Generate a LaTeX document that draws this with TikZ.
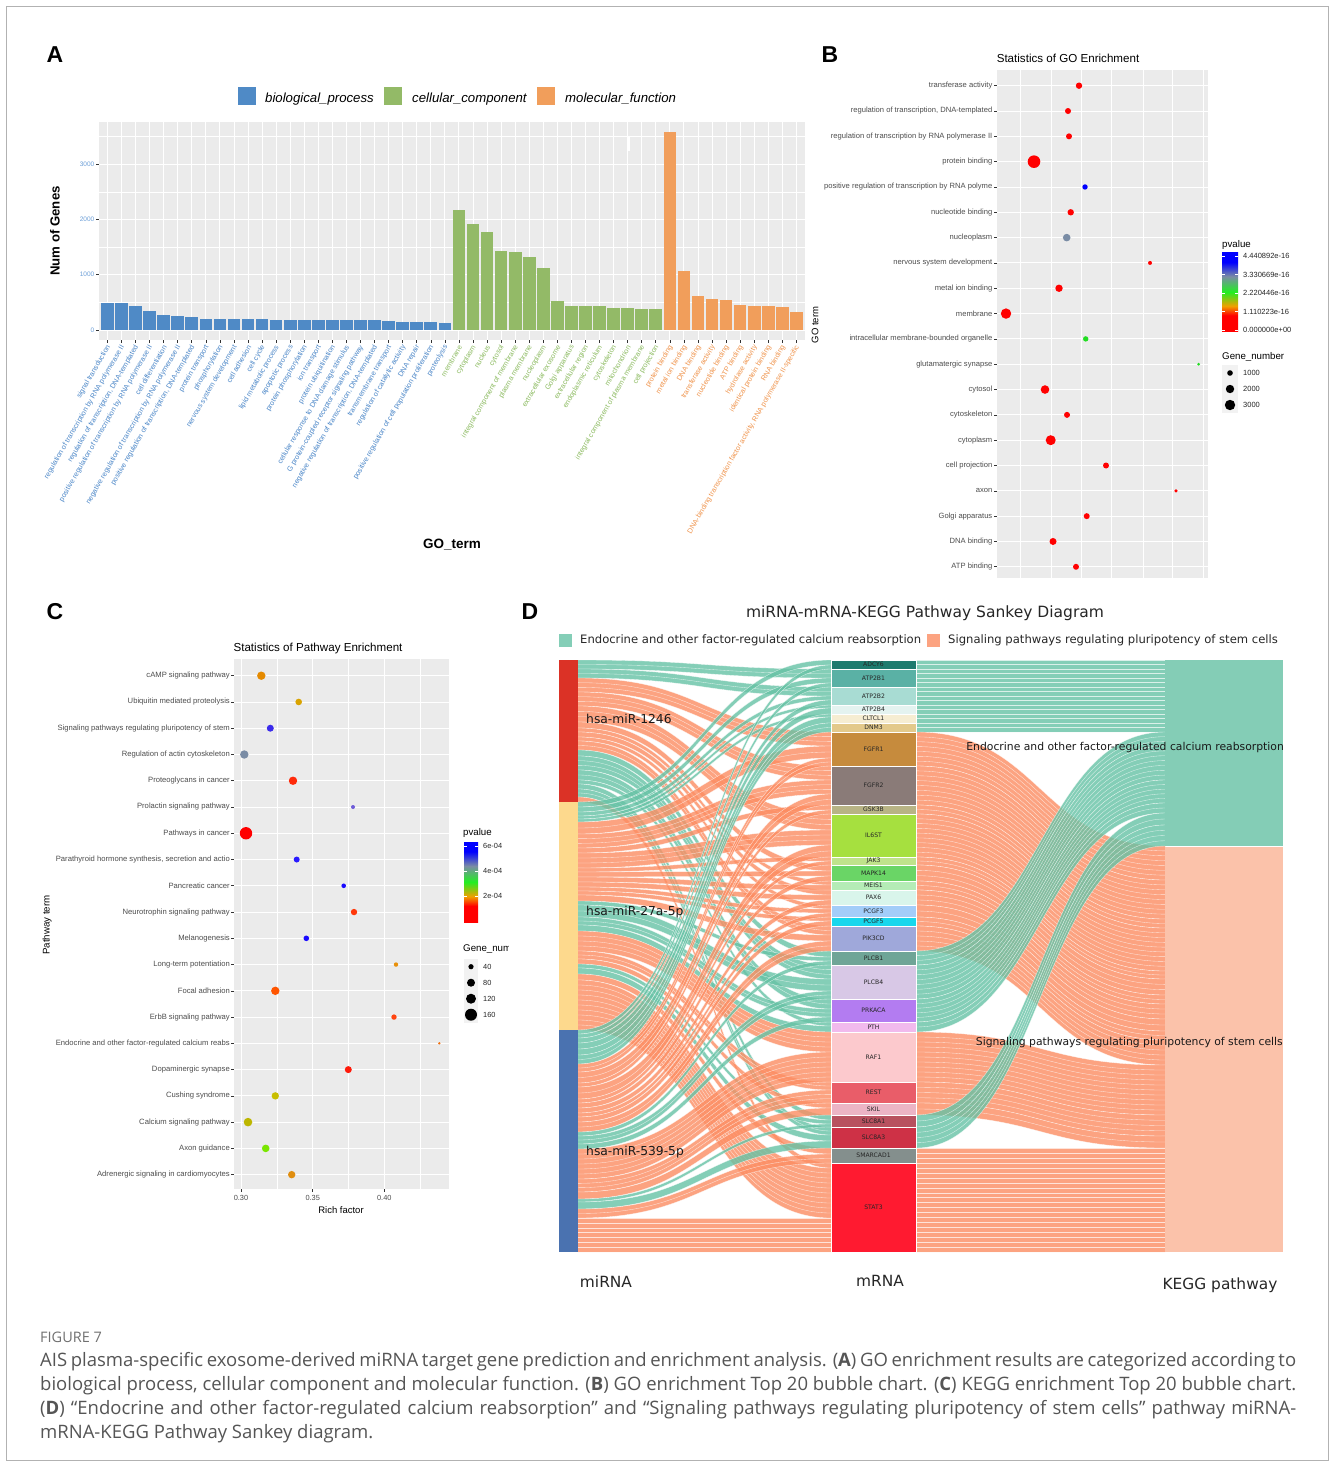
\documentclass[tikz,border=0pt]{standalone}
\usepackage{fontspec}
\setmainfont{Liberation Sans}
\newfontfamily\djv{DejaVu Sans}
\newfontfamily\capfont{Open Sans}
\newcommand\fsz[1]{\fontsize{#1}{#1}\selectfont}
% panel A colours
\definecolor{ggbg}{HTML}{EBEBEB}
\definecolor{barB}{HTML}{4F8AC6}
\definecolor{barG}{HTML}{93BA67}
\definecolor{barO}{HTML}{F19E5B}
\definecolor{labB}{HTML}{4A86C8}
\definecolor{labG}{HTML}{8CBB60}
\definecolor{labO}{HTML}{F0944C}
\definecolor{ytk}{HTML}{6C9FD8}
\definecolor{gtxt}{HTML}{4D4D4D}
\definecolor{tickc}{HTML}{333333}
\definecolor{keybg}{HTML}{F2F2F2}
% bubble colours
\definecolor{bR}{HTML}{FF0000}
\definecolor{bBl}{HTML}{0000FF}
\definecolor{bSl}{HTML}{7A8CA5}
\definecolor{bGr}{HTML}{22DD22}
\definecolor{cA}{HTML}{E58A00}
\definecolor{cB}{HTML}{D9A300}
\definecolor{cC}{HTML}{3B2BEB}
\definecolor{cE}{HTML}{FF2A0A}
\definecolor{cF}{HTML}{6E5CD8}
\definecolor{cH}{HTML}{2A1BFF}
\definecolor{cI}{HTML}{1A0AFF}
\definecolor{cJ}{HTML}{FF380A}
\definecolor{cK}{HTML}{E8900A}
\definecolor{cL}{HTML}{FF5500}
\definecolor{cM}{HTML}{FF4510}
\definecolor{cN}{HTML}{F07010}
\definecolor{cO}{HTML}{FF1A0A}
\definecolor{cP}{HTML}{C8BE00}
\definecolor{cQ}{HTML}{BDB600}
\definecolor{cR}{HTML}{7AE600}
\definecolor{cS}{HTML}{E08E10}
\definecolor{pvR}{HTML}{FF0000}
\definecolor{pvO}{HTML}{F0A000}
\definecolor{pvG}{HTML}{22EE22}
\definecolor{pvS}{HTML}{7A8CA5}
\definecolor{pvB}{HTML}{0000FF}
\pgfdeclareverticalshading{pvsh}{100bp}{color(0bp)=(pvR); color(35bp)=(pvR); color(41bp)=(pvO); color(50bp)=(pvG); color(60bp)=(pvS); color(69bp)=(pvB); color(100bp)=(pvB)}
% sankey colours
\definecolor{lkT}{HTML}{66C2A5}
\definecolor{lkS}{HTML}{FC8D62}
\definecolor{kT}{HTML}{84CDB6}
\definecolor{kS}{HTML}{FBC2AA}
\definecolor{mR}{HTML}{DB3226}
\definecolor{mY}{HTML}{FDD98D}
\definecolor{mB}{HTML}{4A72B0}
\definecolor{gADCY6}{HTML}{1E7B6E}
\definecolor{gATP2B1}{HTML}{5AB1A5}
\definecolor{gATP2B2}{HTML}{A8DCD3}
\definecolor{gATP2B4}{HTML}{E4F3F0}
\definecolor{gCLTCL1}{HTML}{F6EDD2}
\definecolor{gDNM3}{HTML}{E3C98B}
\definecolor{gFGFR1}{HTML}{C68B3D}
\definecolor{gFGFR2}{HTML}{8A7B78}
\definecolor{gGSK3B}{HTML}{B8B485}
\definecolor{gIL6ST}{HTML}{A6E03F}
\definecolor{gJAK3}{HTML}{BFE38B}
\definecolor{gMAPK14}{HTML}{6AD566}
\definecolor{gMEIS1}{HTML}{B5ECB6}
\definecolor{gPAX6}{HTML}{D9F5EB}
\definecolor{gPCGF3}{HTML}{A3CDF9}
\definecolor{gPCGF5}{HTML}{17D7EC}
\definecolor{gPIK3CD}{HTML}{9FA8DA}
\definecolor{gPLCB1}{HTML}{6FA597}
\definecolor{gPLCB4}{HTML}{D8C8E6}
\definecolor{gPRKACA}{HTML}{B37CF1}
\definecolor{gPTH}{HTML}{F1BAED}
\definecolor{gRAF1}{HTML}{FCC9CD}
\definecolor{gREST}{HTML}{E95D69}
\definecolor{gSKIL}{HTML}{ECB4C5}
\definecolor{gSLC8A1}{HTML}{B8515F}
\definecolor{gSLC8A3}{HTML}{CE3146}
\definecolor{gSMARCAD1}{HTML}{848F8D}
\definecolor{gSTAT3}{HTML}{FF1A30}
\definecolor{capc}{HTML}{555555}
\definecolor{figc}{HTML}{707070}
% a sankey band: colour, x0, x1, y at source, y at target, width
\newcommand\sband[6]{%
  \pgfmathsetmacro\xm{(#2+#3)/2}%
  \fill[fill=#1, fill opacity=0.8] (#2,#4) .. controls (\xm,#4) and (\xm,#5) .. (#3,#5) -- (#3,{#5+#6}) .. controls (\xm,{#5+#6}) and (\xm,{#4+#6}) .. (#2,{#4+#6}) -- cycle;%
  \pgfmathtruncatemacro\nsub{max(1,round(#6/5))}%
  \foreach \j in {0,...,\nsub}{%
    \pgfmathsetmacro\off{\j*#6/\nsub}%
    \draw[white, line width=0.35, opacity=0.7] (#2,{#4+\off}) .. controls (\xm,{#4+\off}) and (\xm,{#5+\off}) .. (#3,{#5+\off});%
  }%
}
\begin{document}
\begin{tikzpicture}[x=1pt,y=-1pt,
  xlab/.style={rotate=60, anchor=east, font=\fsz{7.2}, inner sep=0.3pt},
  ylabB/.style={anchor=east, font=\fsz{7.6}, text=gtxt, inner sep=0.5pt},
  ylabC/.style={anchor=east, font=\fsz{7.65}, text=gtxt, inner sep=0.5pt},
  legt/.style={anchor=west, font=\fsz{9.7}, inner sep=0},
  legs/.style={anchor=west, font=\fsz{7.5}, text=black!85, inner sep=0},
  panel/.style={font=\bfseries\fsz{23}, inner sep=0},
  gene/.style={draw=white, line width=0.4, minimum width=85, inner sep=0, font=\djv\fsz{6.1}, text=black!85},
  captxt/.style={anchor=base west, inner sep=0, font=\capfont\fsz{18.5}, text=capc}]
\useasboundingbox (0,0) rectangle (1330,1463);
\fill[white] (0,0) rectangle (1330,1463);
\draw[black!30, line width=0.8] (6,6) rectangle (1328,1460);

% ================= Panel A =================
\node[panel] (lA) at (55,55) {A};
\fill[barB] (238,87) rectangle (256,105);
\node[anchor=west, font=\itshape\fsz{13.2}, inner sep=0] (legA1) at (265,99) {biological\_process};
\fill[barG] (384,87) rectangle (402,105);
\node[anchor=west, font=\itshape\fsz{13.2}, inner sep=0] (legA2) at (412,99) {cellular\_component};
\fill[barO] (537,87) rectangle (555,105);
\node[anchor=west, font=\itshape\fsz{13.2}, inner sep=0] (legA3) at (565,99) {molecular\_function};

\fill[ggbg] (99,122) rectangle (805,340);
\foreach \v in {500,1500,2500,3500} \draw[white, line width=0.45] (99,{330-\v*0.0553}) -- (805,{330-\v*0.0553});
\foreach \v in {0,1000,2000,3000} \draw[white, line width=0.9] (99,{330-\v*0.0553}) -- (805,{330-\v*0.0553});
\foreach \i in {1,...,50} \draw[white, line width=0.9] ({99+(\i-0.4)*14.06},122) -- ({99+(\i-0.4)*14.06},340);
\foreach \v [count=\i] in {485,480,430,345,265,255,230,205,200,195,190,190,188,185,185,183,180,178,175,172,170,140,138,136,135}
  \fill[barB] ({99+(\i-0.4)*14.06-6.33},330) rectangle ({99+(\i-0.4)*14.06+6.33},{330-\v*0.0553});
\foreach \v [count=\i from 26] in {2163,1910,1771,1428,1404,1319,1114,518,434,434,428,398,392,380,373}
  \fill[barG] ({99+(\i-0.4)*14.06-6.33},330) rectangle ({99+(\i-0.4)*14.06+6.33},{330-\v*0.0553});
\foreach \v [count=\i from 41] in {3578,1072,608,554,536,446,434,428,422,331}
  \fill[barO] ({99+(\i-0.4)*14.06-6.33},330) rectangle ({99+(\i-0.4)*14.06+6.33},{330-\v*0.0553});
\fill[white] (626.5,137) rectangle (629.5,151);
\foreach \i in {1,...,50} \draw[tickc, line width=0.6] ({99+(\i-0.4)*14.06},340) -- ({99+(\i-0.4)*14.06},343);
\foreach \v in {0,1000,2000,3000} {
  \draw[tickc, line width=0.6] (96,{330-\v*0.0553}) -- (99,{330-\v*0.0553});
  \node[anchor=east, font=\fsz{6.5}, text=ytk, inner sep=0.5] at (95,{330-\v*0.0553}) {\v};
}
\node[rotate=90, font=\bfseries\fsz{13.2}, inner sep=0] (ytA) at (55,231) {Num of Genes};
\node[font=\bfseries\fsz{13.5}, inner sep=0] (xtA) at (452,545) {GO\_term};
\foreach \tx [count=\i] in {signal transduction, regulation of transcription by RNA polymerase II, regulation of transcription{,} DNA-templated, positive regulation of transcription by RNA polymerase II, cell differentiation, negative regulation of transcription by RNA polymerase II, positive regulation of transcription{,} DNA-templated, protein transport, phosphorylation, nervous system development, cell adhesion, cell cycle, lipid metabolic process, apoptotic process, protein phosphorylation, ion transport, protein ubiquitination, cellular response to DNA damage stimulus, G protein-coupled receptor signaling pathway, negative regulation of transcription{,} DNA-templated, transmembrane transport, regulation of catalytic activity, DNA repair, positive regulation of cell population proliferation, proteolysis}
  \node[xlab, text=labB] (xa\i) at ({99+(\i-0.4)*14.06+1.5},345.5) {\tx};
\foreach \tx [count=\i from 26] in {membrane, cytoplasm, nucleus, cytosol, integral component of membrane, plasma membrane, nucleoplasm, extracellular exosome, Golgi apparatus, extracellular region, endoplasmic reticulum, cytoskeleton, mitochondrion, integral component of plasma membrane, cell projection}
  \node[xlab, text=labG] (xa\i) at ({99+(\i-0.4)*14.06+1.5},345.5) {\tx};
\foreach \tx [count=\i from 41] in {protein binding, metal ion binding, DNA binding, transferase activity, nucleotide binding, ATP binding, hydrolase activity, identical protein binding, RNA binding, DNA-binding transcription factor activity{,} RNA polymerase II-specific}
  \node[xlab, text=labO] (xa\i) at ({99+(\i-0.4)*14.06+1.5},345.5) {\tx};

% ================= Panel B =================
\node[panel] (lB) at (830,55) {B};
\node[font=\fsz{11.6}, inner sep=0] (tB) at (1068,58) {Statistics of GO Enrichment};
\node[rotate=90, font=\fsz{9.5}, inner sep=0] (ytB) at (815,325) {GO term};
\fill[ggbg] (997,70) rectangle (1208,578);
\foreach \xx in {1020.7,1081.7,1143.3,1203.3} \draw[white, line width=0.45] (\xx,70) -- (\xx,578);
\foreach \xx in {1051.7,1111.7,1172.7} \draw[white, line width=0.9] (\xx,70) -- (\xx,578);
\foreach \k in {0,...,19} \draw[white, line width=0.9] (997,{85.7+\k*25.32}) -- (1208,{85.7+\k*25.32});
\foreach \lab/\xx/\rr/\cc [count=\k] in {transferase activity/1079/3.2/bR, regulation of transcription{,} DNA-templated/1068/3/bR, regulation of transcription by RNA polymerase II/1069/3/bR, protein binding/1034/6.3/bR, positive regulation of transcription by RNA polyme/1085/2.7/bBl, nucleotide binding/1070.7/3.2/bR, nucleoplasm/1066.7/3.8/bSl, nervous system development/1150/2/bR, metal ion binding/1059/3.7/bR, membrane/1006/5.2/bR, intracellular membrane-bounded organelle/1085.7/2.7/bGr, glutamatergic synapse/1198.7/1.5/bGr, cytosol/1045/4.3/bR, cytoskeleton/1067/3/bR, cytoplasm/1050.7/5/bR, cell projection/1106/3/bR, axon/1176/1.8/bR, Golgi apparatus/1086.7/3/bR, DNA binding/1053/3.5/bR, ATP binding/1076/3/bR} {
  \pgfmathsetmacro\yy{85.7+(\k-1)*25.32}
  \draw[tickc, line width=0.6] (994,\yy) -- (997,\yy);
  \node[ylabB] (yb\k) at (993,\yy) {\lab};
  \fill[fill=\cc] (\xx,\yy) circle[radius=\rr];
}
\node[legt] (pvB) at (1222,245) {pvalue};
\shade[shading=pvsh] (1222,253) rectangle (1238,331);
\foreach \lab/\yy in {4.440892e-16/256, 3.330669e-16/274.5, 2.220446e-16/293, 1.110223e-16/311.5, 0.000000e+00/330} {
  \draw[white, line width=0.5] (1222,\yy) -- (1225,\yy) (1235,\yy) -- (1238,\yy);
  \node[legs] at (1243,\yy) {\lab};
}
\node[legt] (gnB) at (1222,357) {Gene\_number};
\foreach \lab/\yy/\rr in {1000/373/2.8, 2000/389/4.2, 3000/405/5.2} {
  \fill[keybg] (1222,{\yy-8}) rectangle (1238,{\yy+8});
  \fill[black] (1230,\yy) circle[radius=\rr];
  \node[legs] at (1243,\yy) {\lab};
}

% ================= Panel C =================
\node[panel] (lC) at (55,612) {C};
\node[font=\fsz{11.6}, inner sep=0] (tC) at (318,648) {Statistics of Pathway Enrichment};
\node[rotate=90, font=\fsz{9.7}, inner sep=0] (ytC) at (47,925) {Pathway term};
\fill[ggbg] (234.3,659.3) rectangle (449.3,1189.3);
\foreach \xx in {276.8,348.5,420.2} \draw[white, line width=0.45] (\xx,659.3) -- (\xx,1189.3);
\foreach \xx in {241,312.7,384.3} \draw[white, line width=0.9] (\xx,659.3) -- (\xx,1189.3);
\foreach \k in {0,...,19} \draw[white, line width=0.9] (234.3,{675.7+\k*26.26}) -- (449.3,{675.7+\k*26.26});
\foreach \lab/\xx/\rr/\cc [count=\k] in {cAMP signaling pathway/261.3/4.2/cA, Ubiquitin mediated proteolysis/298.7/3.3/cB, Signaling pathways regulating pluripotency of stem/270.3/3.5/cC, Regulation of actin cytoskeleton/244.3/4.2/bSl, Proteoglycans in cancer/293/4.2/cE, Prolactin signaling pathway/353/2/cF, Pathways in cancer/246/6.2/bR, Parathyroid hormone synthesis{,} secretion and actio/296.7/3/cH, Pancreatic cancer/343.7/2.3/cI, Neurotrophin signaling pathway/354/3.2/cJ, Melanogenesis/306.3/2.8/cI, Long-term potentiation/396/2.2/cK, Focal adhesion/275.3/4.2/cL, ErbB signaling pathway/394/2.7/cM, Endocrine and other factor-regulated calcium reabs/439.3/1.3/cN, Dopaminergic synapse/348.3/3.5/cO, Cushing syndrome/275.3/3.7/cP, Calcium signaling pathway/248/4.3/cQ, Axon guidance/265.7/3.8/cR, Adrenergic signaling in cardiomyocytes/291.7/3.7/cS} {
  \pgfmathsetmacro\yy{675.7+(\k-1)*26.26}
  \draw[tickc, line width=0.6] (231.3,\yy) -- (234.3,\yy);
  \node[ylabC] (yc\k) at (230.5,\yy) {\lab};
  \fill[fill=\cc] (\xx,\yy) circle[radius=\rr];
}
\foreach \xx/\lab in {241/0.30, 312.7/0.35, 384.3/0.40} {
  \draw[tickc, line width=0.6] (\xx,1189.3) -- (\xx,1192.3);
  \node[font=\fsz{7.4}, text=gtxt, inner sep=0] at (\xx,1198) {\lab};
}
\node[font=\fsz{9.5}, inner sep=0] (xtC) at (341,1210) {Rich factor};
\node[legt] (pvC) at (463,833) {pvalue};
\shade[shading=pvsh] (464,842) rectangle (478,922);
\foreach \lab/\yy in {6e-04/846, 4e-04/871, 2e-04/896} {
  \draw[white, line width=0.5] (464,\yy) -- (467,\yy) (475,\yy) -- (478,\yy);
  \node[legs, font=\fsz{7.4}] at (483,\yy) {\lab};
}
\begin{scope}
  \clip (455,930) rectangle (508.5,960);
  \node[legt] (gnC) at (463,949) {Gene\_num};
\end{scope}
\foreach \lab/\yy/\rr in {40/966.7/2.6, 80/982.7/4.0, 120/998.7/5.0, 160/1014.7/6.0} {
  \fill[keybg] (464,{\yy-8}) rectangle (478,{\yy+8});
  \fill[black] (471,\yy) circle[radius=\rr];
  \node[legs, font=\fsz{7.4}] at (483,\yy) {\lab};
}

% ================= Panel D =================
\node[panel] (lD) at (530,612) {D};
\node[font=\djv\fsz{15.5}, text=black!85, inner sep=0] (tD) at (925,613) {miRNA-mRNA-KEGG Pathway Sankey Diagram};
\fill[lkT, opacity=0.8] (559,634) rectangle (572,647);
\node[anchor=west, font=\djv\fsz{11.6}, text=black!85, inner sep=0] (lgD1) at (580,640.5) {Endocrine and other factor-regulated calcium reabsorption};
\fill[lkS, opacity=0.8] (927,634) rectangle (940,647);
\node[anchor=west, font=\djv\fsz{11.6}, text=black!85, inner sep=0] (lgD2) at (948,640.5) {Signaling pathways regulating pluripotency of stem cells};

% links miRNA -> mRNA
\foreach \cc/\ys/\yt/\ww in {lkT/660/669/9, lkT/669/687/9, lkS/678/732/14, lkS/692/766/14, lkS/706/814/16, lkS/722/865/6, lkS/728/881/4, lkS/732/890/5, lkS/737/905/4, lkS/741/926/9, lkT/750/951/6, lkT/756/965/14, lkT/770/999/10, lkT/780/1022/4, lkT/784/1115/5, lkT/789/1127/8, lkS/797/1163/5,
  lkT/802/660/5, lkT/807/678/5, lkT/812/696/4, lkT/816/705/3, lkT/819/714/3, lkS/822/746/12, lkS/834/780/14, lkS/848/805/5, lkS/853/830/15, lkS/868/857/4, lkS/872/871/5, lkS/877/885/5, lkS/882/895/5, lkS/887/909/4, lkS/891/917/4, lkS/895/935/6, lkT/901/957/4, lkT/905/979/12, lkT/917/1009/8, lkT/925/1026/6, lkS/931/1032/20, lkS/951/1082/8, lkS/959/1103/5, lkT/964/1120/4, lkT/968/1135/6, lkS/974/1148/6, lkS/980/1168/50,
  lkT/1030/665/4, lkT/1034/683/4, lkT/1038/700/5, lkT/1043/708/6, lkT/1049/717/6, lkT/1055/723/9, lkS/1064/758/8, lkS/1072/794/11, lkS/1083/810/4, lkS/1087/845/12, lkS/1099/861/4, lkS/1103/876/5, lkS/1108/900/5, lkS/1113/913/4, lkS/1117/921/5, lkS/1122/941/10, lkT/1132/961/4, lkT/1136/991/8, lkT/1144/1017/5, lkS/1149/1052/30, lkS/1179/1090/13, lkS/1192/1108/7, lkT/1199/1124/3, lkT/1202/1141/7, lkS/1209/1154/9, lkS/1218/1218/34}
  \sband{\cc}{578}{831}{\ys}{\yt}{\ww};
% links mRNA -> KEGG
\foreach \cc/\ys/\yt/\ww in {lkT/660/660/9, lkT/669/669/18, lkT/687/687/18, lkT/705/705/9, lkT/714/714/9, lkT/723/723/9, lkS/732/846/34, lkS/766/880/39, lkS/805/919/9, lkS/814/928/43, lkS/857/971/8, lkS/865/979/16, lkS/881/995/9, lkS/890/1004/15, lkS/905/1019/12, lkS/917/1031/9, lkS/926/1040/25, lkT/951/732/14, lkT/965/746/34, lkT/999/780/23, lkT/1022/803/10, lkS/1032/1065/50, lkS/1082/1115/21, lkS/1103/1136/12, lkT/1115/813/12, lkT/1127/825/21, lkS/1148/1148/15, lkS/1163/1163/89}
  \sband{\cc}{916}{1165}{\ys}{\yt}{\ww};

% nodes
\node[fill=mR, minimum width=19, minimum height=142, inner sep=0] (mir1) at (568.5,731) {};
\node[fill=mY, minimum width=19, minimum height=228, inner sep=0] (mir2) at (568.5,916) {};
\node[fill=mB, minimum width=19, minimum height=222, inner sep=0] (mir3) at (568.5,1141) {};
\foreach \nm/\tp/\hh in {ADCY6/660/9, ATP2B1/669/18, ATP2B2/687/18, ATP2B4/705/9, CLTCL1/714/9, DNM3/723/9, FGFR1/732/34, FGFR2/766/39, GSK3B/805/9, IL6ST/814/43, JAK3/857/8, MAPK14/865/16, MEIS1/881/9, PAX6/890/15, PCGF3/905/12, PCGF5/917/9, PIK3CD/926/25, PLCB1/951/14, PLCB4/965/34, PRKACA/999/23, PTH/1022/10, RAF1/1032/50, REST/1082/21, SKIL/1103/12, SLC8A1/1115/12, SLC8A3/1127/21, SMARCAD1/1148/15, STAT3/1163/89}
  \node[gene, fill=g\nm, minimum height=\hh] (\nm) at (873.5,{\tp+\hh/2}) {\nm};
\node[fill=kT, minimum width=118, minimum height=186, inner sep=0] (kegg1) at (1224,753) {};
\node[fill=kS, minimum width=118, minimum height=405, inner sep=0] (kegg2) at (1224,1049.5) {};

\node[anchor=west, font=\djv\fsz{12.3}, text=black!90, inner sep=0] (nm1) at (586,719) {hsa-miR-1246};
\node[anchor=west, font=\djv\fsz{12.3}, text=black!90, inner sep=0] (nm2) at (586,912) {hsa-miR-27a-5p};
\node[anchor=west, font=\djv\fsz{12.3}, text=black!90, inner sep=0] (nm3) at (586,1152) {hsa-miR-539-5p};
\node[anchor=east, font=\djv\fsz{10.8}, text=black!90, inner sep=0] (kn1) at (1284,748) {Endocrine and other factor-regulated calcium reabsorption};
\node[anchor=east, font=\djv\fsz{10.8}, text=black!90, inner sep=0] (kn2) at (1283,1043) {Signaling pathways regulating pluripotency of stem cells};
\node[font=\djv\fsz{15.4}, text=black!85, inner sep=0] (axm1) at (606,1282) {miRNA};
\node[font=\djv\fsz{15.4}, text=black!85, inner sep=0] (axm2) at (880,1281) {mRNA};
\node[font=\djv\fsz{15.4}, text=black!85, inner sep=0] (axm3) at (1220,1285) {KEGG pathway};

% ================= Caption =================
\node[anchor=base west, inner sep=0, font=\capfont\fsz{14.5}, text=figc] (fig) at (40,1342) {FIGURE 7};
\node[captxt] (cap1) at (40,1366) {\makebox[1256pt][s]{AIS plasma-specific exosome-derived miRNA target gene prediction and enrichment analysis. (\textbf{A}) GO enrichment results are categorized according to}};
\node[captxt] (cap2) at (40,1390) {\makebox[1256pt][s]{biological process, cellular component and molecular function. (\textbf{B}) GO enrichment Top 20 bubble chart. (\textbf{C}) KEGG enrichment Top 20 bubble chart.}};
\node[captxt] (cap3) at (40,1414) {\makebox[1256pt][s]{(\textbf{D}) “Endocrine and other factor-regulated calcium reabsorption” and “Signaling pathways regulating pluripotency of stem cells” pathway miRNA-}};
\node[captxt] (cap4) at (40,1438) {mRNA-KEGG Pathway Sankey diagram.};
\end{tikzpicture}
\end{document}
